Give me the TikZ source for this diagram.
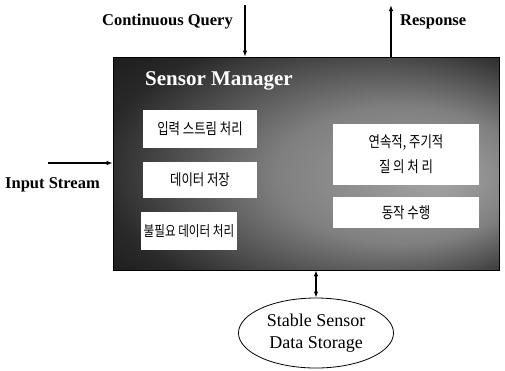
\documentclass[tikz,border=0pt]{standalone}
\usepackage{fontspec}
\setmainfont{Liberation Serif}
\newfontfamily\krfont[FakeStretch=0.8]{Noto Sans CJK KR}
\usetikzlibrary{arrows.meta,positioning,shapes.geometric}
\pgfdeclareradialshading{mgrshade}{\pgfpoint{18bp}{-4bp}}{%
  color(0bp)=(black!36); color(16bp)=(black!50);
  color(33bp)=(black!84); color(50bp)=(black!97)}
\tikzset{
  mgrbox/.style ={draw=black, line width=0.6pt, shading=mgrshade,
                  minimum width=386pt, minimum height=213pt, inner sep=0pt},
  krbox/.style  ={fill=white, inner sep=0pt, align=center,
                  font=\krfont\fontsize{15.5}{25}\selectfont},
  lbl/.style    ={font=\bfseries\fontsize{16.5}{18}\selectfont, inner sep=0pt},
  ttl/.style    ={font=\bfseries\fontsize{21}{24}\selectfont, text=white,
                  inner sep=0pt},
  dbell/.style  ={draw, ellipse, line width=0.8pt, minimum width=155pt,
                  minimum height=70pt, inner sep=0pt, align=center,
                  font=\fontsize{18}{22}\selectfont},
  flow/.style   ={-{Latex[length=6pt,width=4.5pt]}, line width=1.3pt},
  dflow/.style  ={{Latex[length=6pt,width=4.5pt]}-{Latex[length=6pt,width=4.5pt]},
                  line width=1.3pt},
}
\begin{document}
\begin{tikzpicture}[x=1pt, y=-1pt]
  \useasboundingbox (0,0) rectangle (505,370);
  % sensor manager block
  \node[mgrbox] (mgr) at (306,163.5) {};
  \node[ttl, anchor=base west] (mgrlbl) at (145,85) {Sensor Manager};
  % left column
  \node[krbox, minimum width=114pt, minimum height=38pt] (instr) at (200,129)
    {입력 스트림 처리};
  \node[krbox, minimum width=114pt, minimum height=36pt] (dsave) at (200,180)
    {데이터 저장};
  \node[krbox, minimum width=96pt, minimum height=38pt,
        font=\krfont\fontsize{14.5}{20}\selectfont] (unneed) at (189,231)
    {불필요 데이터 처리};
  % right column
  \node[krbox, minimum width=146pt, minimum height=61pt] (cqproc) at (406,154.5)
    {연속적, 주기적\\질 의 처 리};
  \node[krbox, minimum width=146pt, minimum height=31pt] (act) at (406,212.5)
    {동작 수행};
  % inputs and outputs
  \coordinate (cqsrc) at (245,5);
  \coordinate (rspdst) at (391,5);
  \coordinate (issrc) at (48,163);
  \draw[flow] (cqsrc) -- (cqsrc |- mgr.north);
  \draw[flow] (rspdst |- mgr.north) -- (rspdst);
  \draw[flow] (issrc) -- (issrc -| mgr.west);
  \node[lbl, anchor=base east] (cqlbl) at (233,25) {Continuous Query};
  \node[lbl, anchor=base west] (rsplbl) at (400,25) {Response};
  \node[lbl, anchor=base west] (islbl) at (5,188) {Input Stream};
  % storage
  \node[dbell] (store) at (316,333) {Stable Sensor\\Data Storage};
  \draw[dflow] (store.north |- mgr.south) -- (store.north);
\end{tikzpicture}
\end{document}
